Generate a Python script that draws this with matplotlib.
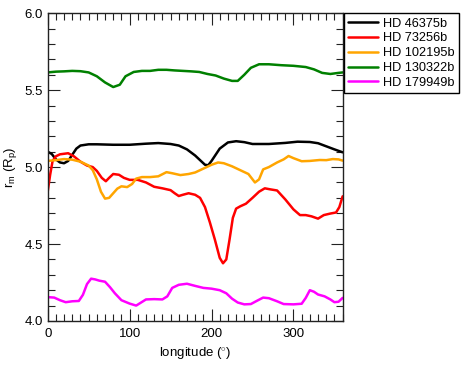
import matplotlib
matplotlib.use("Agg")
import matplotlib.pyplot as plt
from matplotlib.ticker import MultipleLocator

plt.rcParams['font.family'] = ['Liberation Sans', 'DejaVu Sans']
plt.rcParams['mathtext.fontset'] = 'custom'
plt.rcParams['mathtext.rm'] = 'Liberation Sans'
plt.rcParams['mathtext.it'] = 'Liberation Sans:italic'

labels = ["HD 46375b", "HD 73256b", "HD 102195b", "HD 130322b", "HD 179949b"]
colors = ["black", "#ff0000", "#ffa500", "#008000", "#ff00ff"]

lon_46375 = [0, 5, 10, 15, 20, 25, 30, 35, 40, 50, 60, 80, 100, 120, 135, 150, 160, 170, 180, 187, 192, 196, 200, 210, 220, 230, 240, 250, 270, 290, 305, 320, 330, 340, 350, 360]
rm_46375 = [5.10, 5.085, 5.05, 5.03, 5.025, 5.04, 5.08, 5.12, 5.14, 5.148, 5.148, 5.145, 5.145, 5.152, 5.156, 5.15, 5.14, 5.115, 5.075, 5.04, 5.015, 5.012, 5.04, 5.12, 5.16, 5.168, 5.162, 5.15, 5.15, 5.157, 5.165, 5.163, 5.155, 5.135, 5.115, 5.096]

lon_73256 = [0, 3, 6, 10, 15, 25, 32, 40, 48, 55, 60, 66, 71, 75, 80, 87, 93, 100, 110, 120, 130, 140, 150, 155, 160, 165, 172, 180, 186, 192, 198, 204, 210, 214, 218, 222, 226, 230, 235, 242, 250, 258, 265, 272, 280, 290, 300, 308, 315, 322, 330, 337, 345, 352, 356, 360]
rm_73256 = [4.84, 4.95, 5.04, 5.07, 5.083, 5.09, 5.07, 5.035, 5.01, 5.0, 4.975, 4.93, 4.908, 4.93, 4.955, 4.95, 4.93, 4.917, 4.917, 4.9, 4.872, 4.862, 4.85, 4.83, 4.812, 4.82, 4.83, 4.82, 4.80, 4.74, 4.64, 4.53, 4.41, 4.375, 4.40, 4.53, 4.67, 4.73, 4.745, 4.762, 4.80, 4.84, 4.862, 4.855, 4.848, 4.79, 4.725, 4.688, 4.688, 4.68, 4.665, 4.688, 4.698, 4.705, 4.74, 4.81]

lon_102195 = [0, 10, 20, 30, 40, 50, 55, 60, 65, 70, 75, 80, 85, 90, 97, 103, 108, 115, 125, 135, 145, 152, 162, 172, 180, 190, 200, 208, 215, 225, 235, 245, 253, 258, 263, 270, 280, 288, 294, 300, 310, 320, 332, 340, 348, 355, 360]
rm_102195 = [5.04, 5.045, 5.052, 5.048, 5.035, 5.01, 4.98, 4.92, 4.84, 4.795, 4.80, 4.83, 4.86, 4.875, 4.87, 4.89, 4.925, 4.935, 4.935, 4.94, 4.967, 4.96, 4.948, 4.955, 4.965, 4.99, 5.015, 5.03, 5.025, 5.005, 4.98, 4.955, 4.90, 4.92, 4.985, 5.0, 5.03, 5.05, 5.072, 5.058, 5.038, 5.04, 5.046, 5.045, 5.052, 5.05, 5.042]

lon_130322 = [0, 10, 20, 30, 40, 50, 60, 70, 80, 88, 95, 105, 115, 125, 135, 145, 155, 165, 175, 185, 195, 205, 215, 225, 232, 240, 248, 258, 270, 285, 300, 315, 325, 335, 345, 355, 360]
rm_130322 = [5.615, 5.62, 5.622, 5.625, 5.623, 5.615, 5.59, 5.55, 5.52, 5.535, 5.59, 5.618, 5.625, 5.625, 5.632, 5.632, 5.628, 5.625, 5.622, 5.618, 5.605, 5.595, 5.575, 5.56, 5.56, 5.6, 5.645, 5.668, 5.668, 5.662, 5.658, 5.65, 5.635, 5.612, 5.605, 5.612, 5.615]

lon_179949 = [0, 8, 15, 22, 30, 38, 43, 48, 53, 58, 63, 70, 76, 82, 90, 100, 108, 114, 120, 130, 140, 146, 152, 160, 170, 180, 190, 200, 210, 218, 225, 232, 240, 248, 255, 263, 270, 280, 288, 300, 310, 315, 320, 325, 330, 338, 345, 350, 355, 360]
rm_179949 = [4.155, 4.152, 4.135, 4.122, 4.128, 4.13, 4.17, 4.24, 4.275, 4.27, 4.262, 4.255, 4.22, 4.18, 4.135, 4.113, 4.10, 4.12, 4.14, 4.142, 4.14, 4.16, 4.215, 4.235, 4.242, 4.228, 4.215, 4.21, 4.2, 4.18, 4.145, 4.12, 4.108, 4.11, 4.13, 4.152, 4.148, 4.128, 4.11, 4.108, 4.112, 4.15, 4.20, 4.19, 4.172, 4.16, 4.14, 4.122, 4.125, 4.15]

series = [(lon_46375, rm_46375), (lon_73256, rm_73256), (lon_102195, rm_102195),
          (lon_130322, rm_130322), (lon_179949, rm_179949)]

fig = plt.figure(figsize=(4.63, 3.66), dpi=100)
ax = fig.add_axes([0.103, 0.123, 0.637, 0.841])

for (x, y), c, lab in zip(series, colors, labels):
    ax.plot(x, y, color=c, lw=1.8, label=lab, solid_joinstyle='round', solid_capstyle='round')

ax.set_xlim(0, 360)
ax.set_ylim(4.0, 6.0)
ax.xaxis.set_major_locator(MultipleLocator(100))
ax.xaxis.set_minor_locator(MultipleLocator(10))
ax.yaxis.set_major_locator(MultipleLocator(0.5))
ax.yaxis.set_minor_locator(MultipleLocator(0.1))
ax.yaxis.set_major_formatter(matplotlib.ticker.FormatStrFormatter('%.1f'))
ax.tick_params(which='both', direction='in', top=True, right=True, labelsize=9.5, width=0.8, color='#222222')
ax.tick_params(which='major', length=8.5)
ax.tick_params(axis='x', which='major', pad=5)
ax.tick_params(which='minor', length=5)
for s in ax.spines.values():
    s.set_linewidth(1.0)
    s.set_color('#222222')

ax.set_xlabel('longitude ($^{\\circ}$)', fontsize=9.5, labelpad=4)
ax.set_ylabel(r'r$_\mathrm{m}$ (R$_\mathrm{p}$)', fontsize=9.5, labelpad=4)

leg = ax.legend(loc='upper left', bbox_to_anchor=(1.004, 1.0), borderaxespad=0,
                fontsize=9.2, frameon=True, fancybox=False, framealpha=1,
                handlelength=2.3, handletextpad=0.4, labelspacing=0.22,
                borderpad=0.35)
leg.get_frame().set_edgecolor('black')
leg.get_frame().set_linewidth(1.0)

fig.savefig('out.png', dpi=100)
